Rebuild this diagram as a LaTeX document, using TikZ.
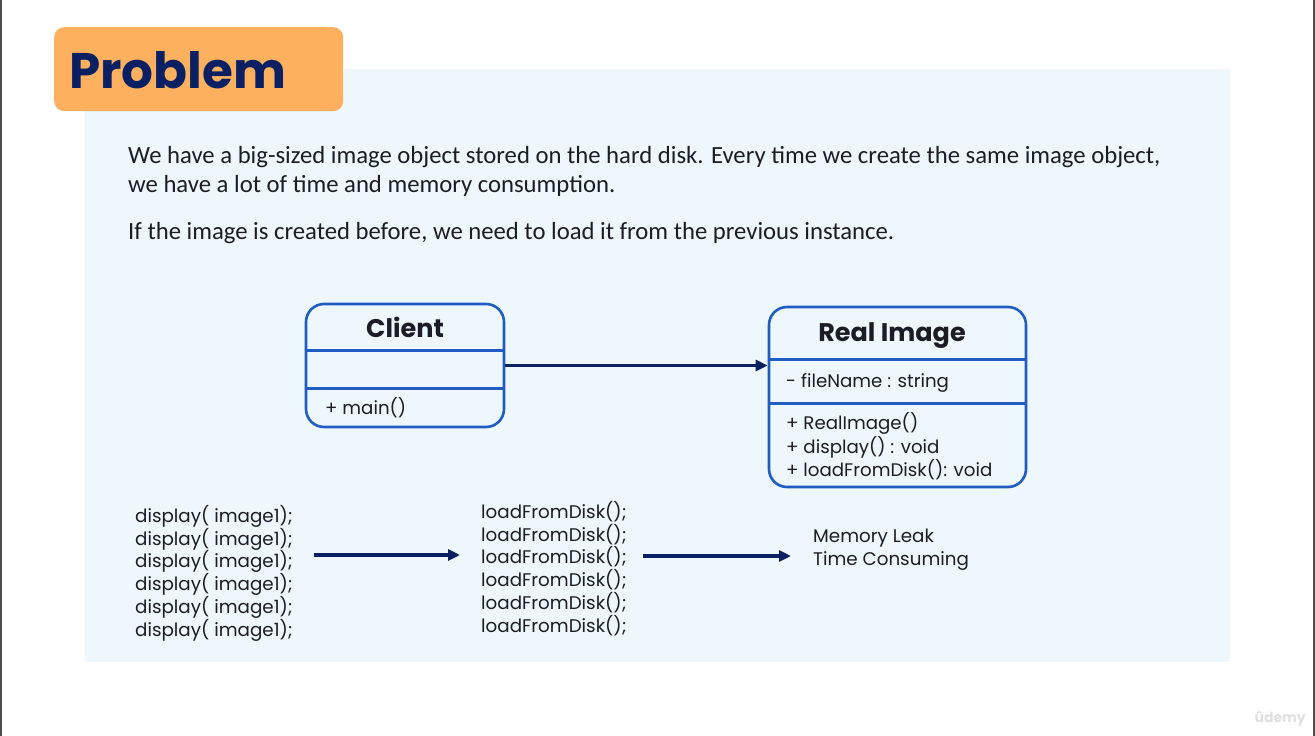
\documentclass[tikz,border=0pt]{standalone}
\usepackage{fontspec}
\setmainfont{Carlito}
\newfontfamily\geo{Poppins}
\usetikzlibrary{calc,arrows.meta}
\definecolor{navy}{HTML}{0B2062}
\definecolor{umlblue}{HTML}{1F5CC4}
\definecolor{orangebox}{HTML}{FDB15F}
\definecolor{panel}{HTML}{EEF7FB}
\definecolor{txt}{HTML}{1C1C28}
\tikzset{
  umlbox/.style={draw=umlblue, line width=2.6pt, rounded corners=18pt, inner sep=0pt},
  divider/.style={draw=umlblue, line width=2.6pt},
  navyarrow/.style={draw=navy, line width=3.4pt, -{Triangle[length=12pt,width=11pt]}},
  umltitle/.style={font=\geo\bfseries\fontsize{25.5}{30}\selectfont, text=txt},
  umltext/.style={font=\geo\fontsize{18.2}{23}\selectfont, text=txt, anchor=west, inner sep=0pt},
  codeblock/.style={font=\geo\fontsize{18.3}{22.8}\selectfont, text=txt, align=left, anchor=north west, inner sep=0pt},
  para/.style={font=\fontsize{24.7}{29}\selectfont, text=txt, anchor=west, inner sep=0pt},
}
\begin{document}
\begin{tikzpicture}[x=1pt,y=-1pt]
\useasboundingbox (0,0) rectangle (1315,736);
\fill[white] (0,0) rectangle (1315,736);
\draw[line width=1.6pt, black!70] (1,0) -- (1,736);
\draw[line width=1.6pt, black!70] (1314,0) -- (1314,736);
% panel
\fill[panel] (85,69) rectangle (1230,662);
% title
\node[fill=orangebox, rounded corners=10pt, minimum width=289pt, minimum height=84pt, anchor=north west, inner sep=0pt] (titlebox) at (54,27) {};
\node[font=\fontspec{Poppins Bold}\fontsize{50}{56}\selectfont, text=navy, anchor=base west, inner sep=0pt] (title) at (69,88) {Problem};
% paragraph
\node[para] (p1) at (128,157) {We have a big-sized image object stored on the hard disk. Every time we create the same image object,};
\node[para] (p2) at (128,186) {we have a lot of time and memory consumption.};
\node[para] (p3) at (128,233) {If the image is created before, we need to load it from the previous instance.};
% Client box
\node[umlbox, minimum width=198pt, minimum height=123pt] (client) at (405,365.5) {};
\node[umltitle] (clienttitle) at (405,327) {Client};
\draw[divider] ($(client.north west)+(0,48)$) -- ($(client.north east)+(0,48)$);
\draw[divider] ($(client.north west)+(0,86)$) -- ($(client.north east)+(0,86)$);
\node[umltext] (cmain) at (325,408) {+ main()};
% Real image box
\node[umlbox, minimum width=257pt, minimum height=180pt] (real) at (897.5,397) {};
\node[umltitle] (realtitle) at (892,336) {Real Image};
\draw[divider] ($(real.north west)+(0,54)$) -- ($(real.north east)+(0,54)$);
\draw[divider] ($(real.north west)+(0,98)$) -- ($(real.north east)+(0,98)$);
\node[umltext] (rf) at (786,383) {- fileName : string};
\node[umltext] (rm1) at (786,423) {+ RealImage()};
\node[umltext] (rm2) at (786,447) {+ display() : void};
\node[umltext] (rm3) at (786,470) {+ loadFromDisk(): void};
% association arrow
\draw[navyarrow] (client.east) -- (real.west |- client.east);
% bottom
\node[codeblock] (disp) at (135,505) {display( image1);\\display( image1);\\display( image1);\\display( image1);\\display( image1);\\display( image1);};
\node[codeblock] (load) at (481,501) {loadFromDisk();\\loadFromDisk();\\loadFromDisk();\\loadFromDisk();\\loadFromDisk();\\loadFromDisk();};
\node[codeblock] (result) at (813,529) {Memory Leak\\Time Consuming};
\coordinate (a1s) at (314,555);
\coordinate (a1e) at (460,555);
\coordinate (a2s) at (643,556);
\coordinate (a2e) at (791,556);
\draw[navyarrow] (a1s) -- (a1e);
\draw[navyarrow] (a2s) -- (a2e);
% watermark
\node[font=\fontspec{Poppins Bold}\fontsize{14}{16}\selectfont, text=black!12, anchor=east, inner sep=0pt] (wm) at (1306,719) {ûdemy};
\end{tikzpicture}
\end{document}
